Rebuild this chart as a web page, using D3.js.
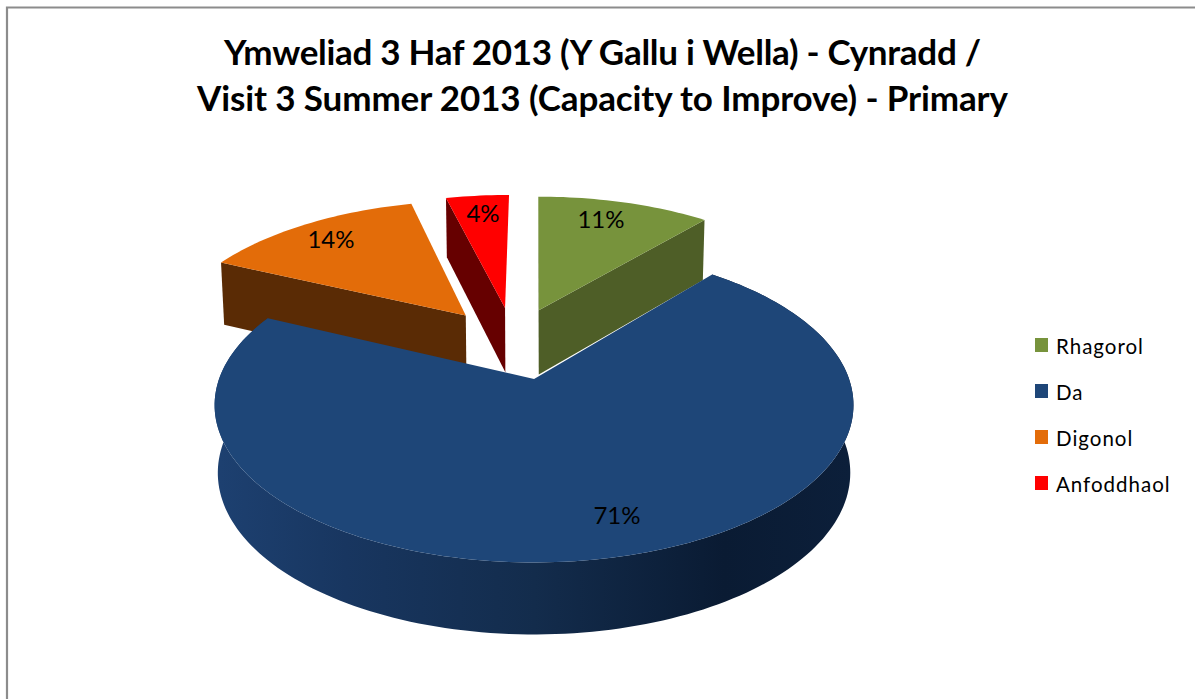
<!DOCTYPE html>
<html lang="en">
<head>
    <meta charset="utf-8">
    <title>Ymweliad 3 Haf 2013</title>
    <script src="https://d3js.org/d3.v7.min.js"></script>
    <style>
        html, body { margin: 0; padding: 0; background: #fff; overflow: hidden; }
        text { font-family: Lato, "Open Sans", sans-serif; fill: #000; }
    </style>
</head>
<body>
    <svg id="chart" width="1195" height="699"></svg>
    <script>
        // chart values
        var categories = ["Rhagorol", "Da", "Digonol", "Anfoddhaol"];
        var shares = [11, 71, 14, 4];
        var titleLines = ["Ymweliad 3 Haf 2013 (Y Gallu i Wella) - Cynradd /",
                          "Visit 3 Summer 2013 (Capacity to Improve) - Primary"];

        // styling
        var topColors = ["#77933c", "#1e4678", "#e36c09", "#ff0000"];
        var sideColors = ["#4e5e27", "#1e4678", "#5a2b05", "#660000"];
        // how far each slice is pulled out of the pie, in radius units (x, depth)
        var explodeU = [0.013, -0.003, -0.236, -0.103];
        var explodeV = [-0.486, 0, -0.445, -0.503];
        var labelPos = [[601, 228], [617, 524], [331, 248], [483, 222]];
        var titleWidths = [757, 811];

        var svg = d3.select("#chart");

        // chart frame, it has no right or bottom edge in the picture
        svg.append("path")
            .attr("d", "M7,699V7.5H1195")
            .attr("fill", "none")
            .attr("stroke", "#8c8c8c")
            .attr("stroke-width", 2.2);

        svg.selectAll(".title")
            .data(titleLines)
            .enter().append("text")
            .attr("class", "title")
            .attr("x", 602.5)
            .attr("y", function (d, i) { return 64.5 + i * 46; })
            .attr("text-anchor", "middle")
            .attr("font-size", "35px")
            .attr("font-weight", "bold")
            .attr("textLength", function (d, i) { return titleWidths[i]; })
            .text(function (d) { return d; });

        // the pie is a tilted disc: circle coords go through a perspective divide
        var cx = 535, cy = 379, persp = 0.166;
        var xScale = d3.scaleLinear().domain([-1, 1]).range([cx - 315, cx + 315]);
        var yScale = d3.scaleLinear().domain([-1, 1]).range([cy - 153, cy + 153]);
        var depth = d3.scaleLinear().domain([-1.5, 1]).range([59, 72]);

        function project(u, v, lower) {
            var s = 1 / (1 - persp * v);
            var x = xScale(u * s), y = yScale(v * s);
            if (lower) {
                x = cx + (x - cx) * 0.99;
                y += depth(v);
            }
            return [x, y];
        }

        function rimPoint(angle, i, lower) {
            return project(Math.sin(angle) + explodeU[i], -Math.cos(angle) + explodeV[i], lower);
        }

        function rim(d, lower) {
            var n = Math.ceil((d.endAngle - d.startAngle) * 40);
            return d3.range(n + 1).map(function (k) {
                return rimPoint(d.startAngle + (d.endAngle - d.startAngle) * k / n, d.index, lower);
            });
        }

        var pie = d3.pie().sort(null)(shares);
        var line = d3.line();

        var defs = svg.append("defs");
        var grad = defs.append("linearGradient")
            .attr("id", "daSide")
            .attr("gradientUnits", "userSpaceOnUse")
            .attr("x1", xScale(-1)).attr("x2", xScale(1))
            .attr("y1", 0).attr("y2", 0);
        [[0, "#1d4070"], [0.2, "#183660"], [0.5, "#132c4c"], [0.8, "#0a1b33"], [1, "#0c1f3a"]].forEach(function (s) {
            grad.append("stop").attr("offset", s[0]).attr("stop-color", s[1]);
        });

        // back slices first, the big slice goes on top of them
        [3, 2, 0, 1].forEach(function (i) {
            var d = pie[i];
            var apex = project(explodeU[i], explodeV[i], false);
            var apexLow = project(explodeU[i], explodeV[i], true);
            var g = svg.append("g");

            if (i === 1) {
                // outer wall of the big slice
                g.append("path")
                    .attr("d", line(rim(d, false).concat(rim(d, true).reverse())) + "Z")
                    .attr("fill", "url(#daSide)");
            } else {
                // cut faces of the pulled out slices: only green shows both
                var faces = i === 0 ? [d.startAngle, d.endAngle] : [d.startAngle];
                faces.forEach(function (a) {
                    g.append("path")
                        .attr("d", line([apex, rimPoint(a, i, false), rimPoint(a, i, true), apexLow]) + "Z")
                        .attr("fill", sideColors[i]);
                });
            }

            g.append("path")
                .attr("d", line([apex].concat(rim(d, false))) + "Z")
                .attr("fill", topColors[i]);
        });

        svg.selectAll(".pct")
            .data(pie)
            .enter().append("text")
            .attr("class", "pct")
            .attr("x", function (d) { return labelPos[d.index][0]; })
            .attr("y", function (d) { return labelPos[d.index][1]; })
            .attr("text-anchor", "middle")
            .attr("font-size", "24px")
            .text(function (d) { return d.value + "%"; });

        // legend
        var legendY = d3.scalePoint().domain(categories).range([338, 476]);
        var legend = svg.selectAll(".legend")
            .data(categories)
            .enter().append("g")
            .attr("class", "legend")
            .attr("transform", function (d) { return "translate(1035," + legendY(d) + ")"; });
        legend.append("rect")
            .attr("width", 13)
            .attr("height", 14)
            .attr("fill", function (d, i) { return topColors[i]; });
        legend.append("text")
            .attr("x", 21)
            .attr("y", 16)
            .attr("font-size", "20.5px")
            .attr("letter-spacing", "1px")
            .text(function (d) { return d; });
    </script>
</body>
</html>
